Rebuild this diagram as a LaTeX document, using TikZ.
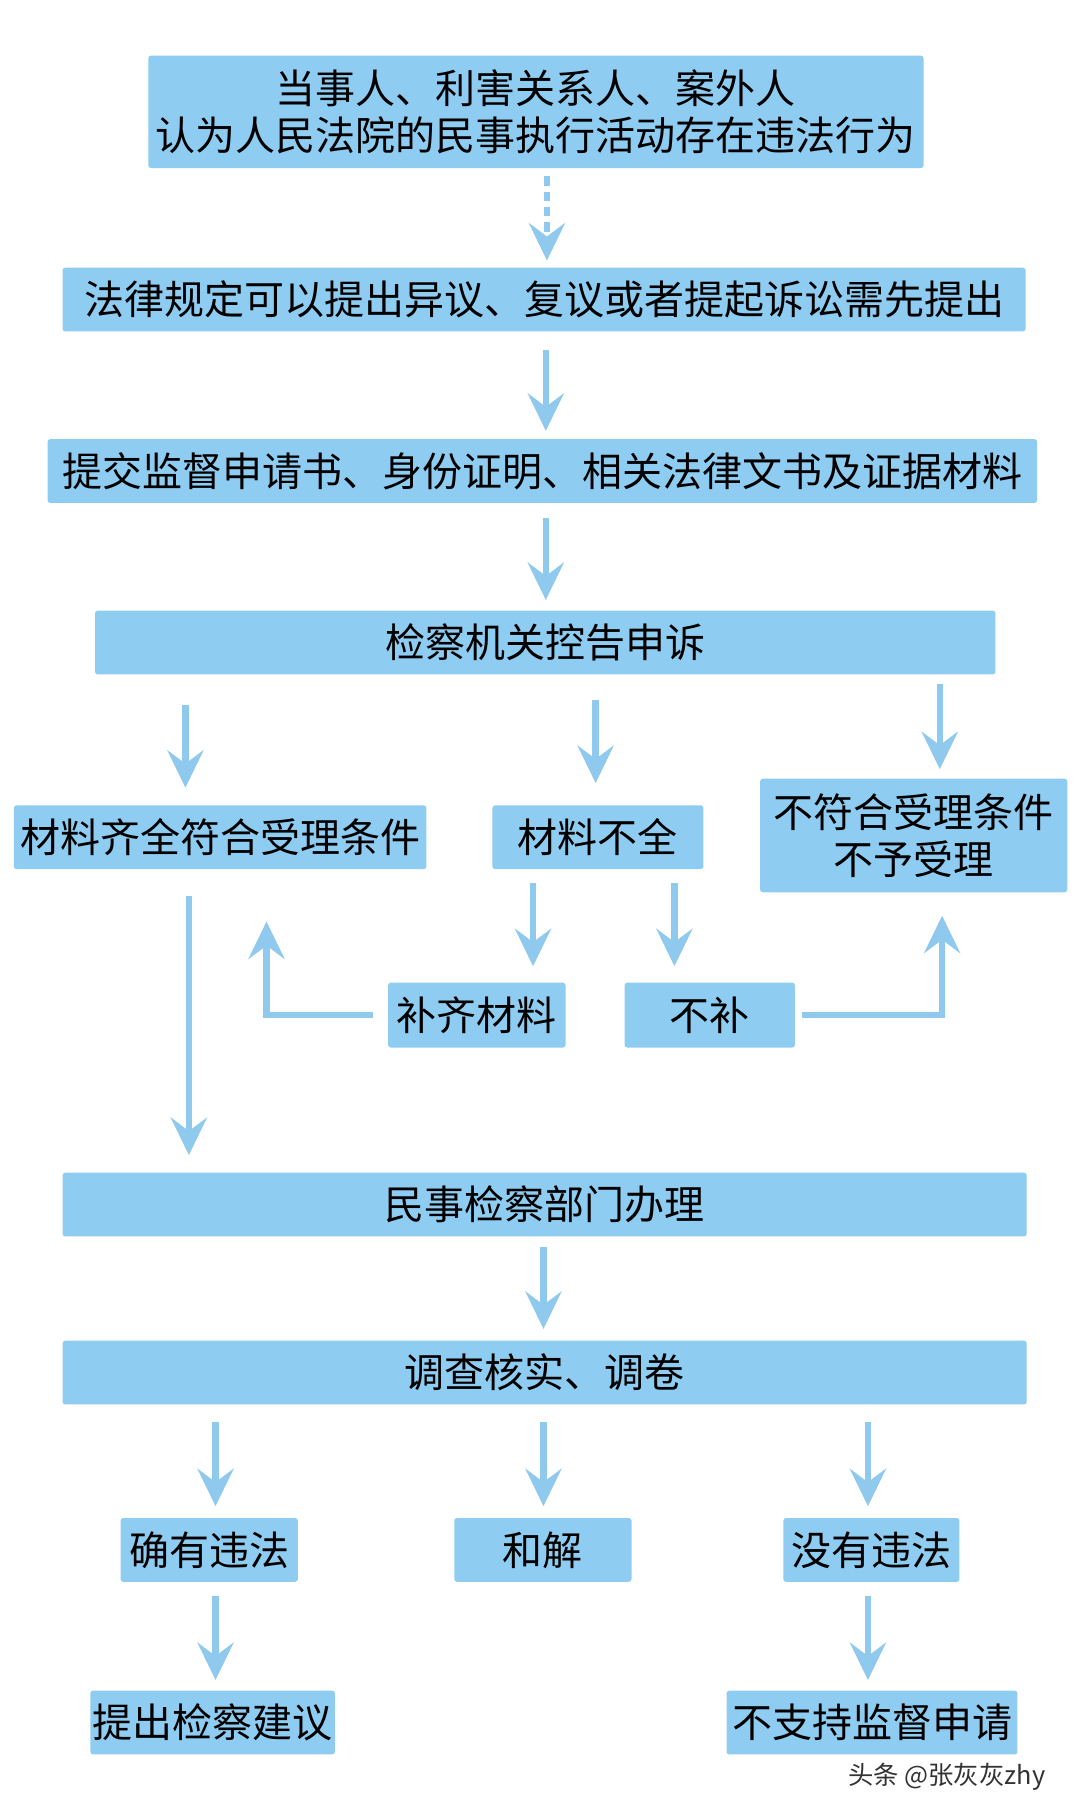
\documentclass[tikz,border=0pt]{standalone}
\usepackage{fontspec}
\setmainfont{Noto Sans CJK SC}
\usetikzlibrary{arrows.meta,calc}
\definecolor{boxblue}{RGB}{142,204,241}
\definecolor{arrblue}{RGB}{143,201,238}
\def\pxu{0.8691pt}
\begin{document}
\begin{tikzpicture}[x=0.8691pt,y=-0.8691pt,
  box/.style={fill=boxblue, rounded corners=2pt, inner sep=0pt, align=center,
    font=\fontsize{30}{35.6}\selectfont, minimum height=55*\pxu},
  arr/.style={draw=arrblue, line width=4.8pt,
    -{Stealth[length=28pt,width=27pt,inset=10pt]}},
  dsh/.style={dash pattern=on 7pt off 4.5pt}]
\useasboundingbox (0,0) rectangle (932,1568);
% boxes
\node[box, minimum width=669*\pxu, minimum height=97*\pxu] (b1) at (462.5,96.5)
  {当事人、利害关系人、案外人\\认为人民法院的民事执行活动存在违法行为};
\node[box, minimum width=831*\pxu] (b2) at (469.5,258.5) {法律规定可以提出异议、复议或者提起诉讼需先提出};
\node[box, minimum width=854*\pxu] (b3) at (468,406.5) {提交监督申请书、身份证明、相关法律文书及证据材料};
\node[box, minimum width=777*\pxu] (b4) at (470.5,554.5) {检察机关控告申诉};
\node[box, minimum width=356*\pxu] (b5) at (190,722.5) {材料齐全符合受理条件};
\node[box, minimum width=182*\pxu] (b6) at (516,722.5) {材料不全};
\node[box, minimum width=265*\pxu, minimum height=98*\pxu] (b7) at (788.5,721) {不符合受理条件\\不予受理};
\node[box, minimum width=153*\pxu, minimum height=56*\pxu] (b8) at (411.5,876) {补齐材料};
\node[box, minimum width=147*\pxu, minimum height=56*\pxu] (b9) at (612.5,876) {不补};
\node[box, minimum width=832*\pxu] (b10) at (470,1039.5) {民事检察部门办理};
\node[box, minimum width=832*\pxu] (b11) at (470,1184.5) {调查核实、调卷};
\node[box, minimum width=153*\pxu] (b12) at (180.5,1337.5) {确有违法};
\node[box, minimum width=153*\pxu] (b13) at (468.5,1337.5) {和解};
\node[box, minimum width=152*\pxu] (b14) at (752,1337.5) {没有违法};
\node[box, minimum width=211*\pxu] (b15) at (183.5,1486.5) {提出检察建议};
\node[box, minimum width=251*\pxu] (b16) at (752.5,1486.5) {不支持监督申请};
\node[text=black!80, font=\fontsize{19}{22}\selectfont] (wm) at (817,1533) {头条 @张灰灰zhy};
% x positions for connectors
\coordinate (xa) at (472,0);
\coordinate (xb) at (471,0);
\coordinate (xc) at (160,0);
\coordinate (xd) at (514,0);
\coordinate (xe) at (811,0);
\coordinate (xf) at (460,0);
\coordinate (xg) at (582,0);
\coordinate (xh) at (230,0);
\coordinate (xi) at (813,0);
\coordinate (xj) at (163,0);
\coordinate (xk) at (469,0);
\coordinate (xl) at (186,0);
\coordinate (xm) at (749,0);
% connectors
\draw[arr, dsh, shorten <=7*\pxu, shorten >=6*\pxu] (b1.south -| xa) -- (b2.north -| xa);
\draw[arr, shorten <=16*\pxu, shorten >=7*\pxu] (b2.south -| xb) -- (b3.north -| xb);
\draw[arr, shorten <=13*\pxu, shorten >=9*\pxu] (b3.south -| xb) -- (b4.north -| xb);
\draw[arr, shorten <=26*\pxu, shorten >=15*\pxu] (b4.south -| xc) -- (b5.north -| xc);
\draw[arr, shorten <=22*\pxu, shorten >=19*\pxu] (b4.south -| xd) -- (b6.north -| xd);
\draw[arr, shorten <=8*\pxu, shorten >=8*\pxu] (b4.south -| xe) -- (b7.north -| xe);
\draw[arr, shorten <=12*\pxu, shorten >=14*\pxu] (b6.south -| xf) -- (b8.north -| xf);
\draw[arr, shorten <=12*\pxu, shorten >=14*\pxu] (b6.south -| xg) -- (b9.north -| xg);
\draw[arr, shorten <=13*\pxu, shorten >=45*\pxu] (b8.west) -| (b5.south -| xh);
\draw[arr, shorten <=6*\pxu, shorten >=20*\pxu] (b9.east) -| (b7.south -| xi);
\draw[arr, shorten <=23*\pxu, shorten >=15*\pxu] (b5.south -| xj) -- (b10.north -| xj);
\draw[arr, shorten <=9*\pxu, shorten >=10*\pxu] (b10.south -| xk) -- (b11.north -| xk);
\draw[arr, shorten <=15*\pxu, shorten >=10*\pxu] (b11.south -| xl) -- (b12.north -| xl);
\draw[arr, shorten <=15*\pxu, shorten >=10*\pxu] (b11.south -| xk) -- (b13.north -| xk);
\draw[arr, shorten <=15*\pxu, shorten >=10*\pxu] (b11.south -| xm) -- (b14.north -| xm);
\draw[arr, shorten <=12*\pxu, shorten >=9*\pxu] (b12.south -| xl) -- (b15.north -| xl);
\draw[arr, shorten <=12*\pxu, shorten >=9*\pxu] (b14.south -| xm) -- (b16.north -| xm);
\end{tikzpicture}
\end{document}
